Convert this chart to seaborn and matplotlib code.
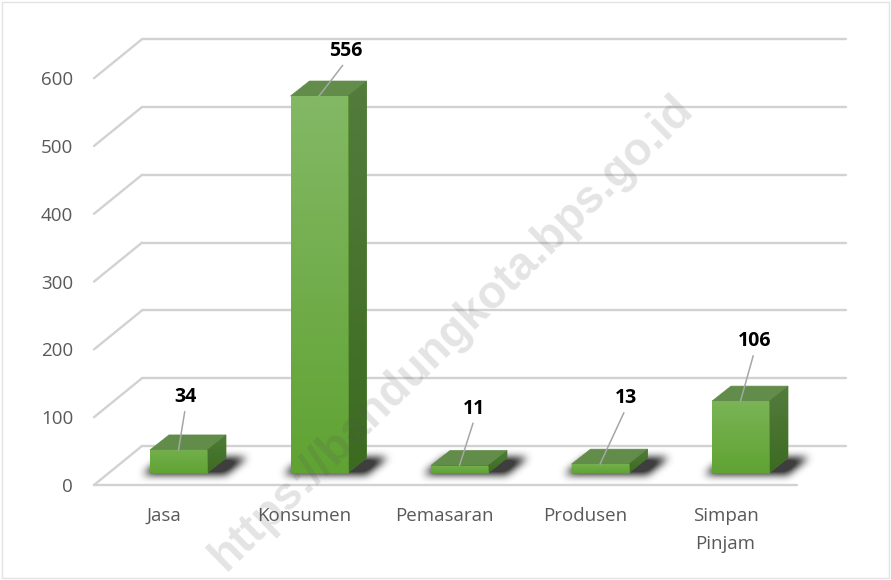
import numpy as np
import pandas as pd
import seaborn as sns
import matplotlib.pyplot as plt
from matplotlib.patches import Polygon, Rectangle
from matplotlib.colors import LinearSegmentedColormap

#Chart values
categories = ['Jasa', 'Konsumen', 'Pemasaran', 'Produsen', 'Simpan Pinjam']
values = [34, 556, 11, 13, 106]
tick_labels = ['Jasa', 'Konsumen', 'Pemasaran', 'Produsen', 'Simpan\nPinjam']
y_levels = [0, 100, 200, 300, 400, 500, 600]
watermark = 'https://bandungkota.bps.go.id'

#Label offsets from the top of each bar, in pixels
label_dx = [7, 27, 15, 26, 14]
label_dy = [53, 45, 57, 66, 60]

W, H = 891, 580
sns.set_theme(style='white')
plt.rcParams['font.family'] = ['Open Sans', 'DejaVu Sans']

fig = plt.figure(figsize=(W / 100, H / 100), dpi=100, facecolor='white')

#Plot frame in pixels, and pixels per unit on both scales
left, right, floor, top = 94, 846, 485, 30
px_cat = 140.5
px_val = 0.678
bar_x0 = 178.5
depth_x, depth_y = 19 / px_cat, 15 / px_val
rect = [left / W, (H - floor) / H, (right - left) / W, (floor - top) / H]

#Front plane: axis labels and the wall/floor grid
ax_front = fig.add_axes(rect)
ax_front.set_xlim((left - 163.5) / px_cat, (right - 163.5) / px_cat)
ax_front.set_ylim(0, (floor - top) / px_val)
sns.despine(ax=ax_front, left=True, bottom=True)
ax_front.patch.set_alpha(0)
ax_front.set_xticks(range(len(tick_labels)))
ax_front.set_xticklabels(tick_labels, linespacing=1.72)
ax_front.set_yticks(y_levels)
ax_front.tick_params(axis='x', length=0, pad=16, labelsize=13.5, labelcolor='#595959')
ax_front.tick_params(axis='y', length=0, pad=15, labelsize=13.5, labelcolor='#595959')

trans = ax_front.get_yaxis_transform()
back_x = 48 / (right - left)
back_dy = 39 / px_val
grid_kw = dict(color='#d2d2d2', lw=1.7, transform=trans, clip_on=False, solid_capstyle='round')
for v in y_levels:
    ax_front.plot([0, back_x], [v, v + back_dy], **grid_kw)
    ax_front.plot([back_x, 1], [v + back_dy, v + back_dy], **grid_kw)
ax_front.plot([0, (797 - left) / (right - left)], [0, 0], **grid_kw)

#Bars plane sits a little behind the front edge of the floor
ax_bars = fig.add_axes(rect, zorder=2)
df = pd.DataFrame({'category': categories, 'value': values})
sns.barplot(data=df, x='category', y='value', ax=ax_bars, color='#6aab3d',
            width=57 / px_cat, edgecolor='#5b9a33', linewidth=0.6, zorder=5)
ax_bars.patch.set_alpha(0)
ax_bars.axis('off')


def gradient(ax, poly, c1, c2, zorder, box):
    #vertical gradient, c1 at the top, clipped to the face
    cmap = LinearSegmentedColormap.from_list('face', [c1, c2])
    im = ax.imshow(np.linspace(0, 1, 128)[:, None], cmap=cmap, extent=box,
                   aspect='auto', zorder=zorder, interpolation='bilinear')
    im.set_clip_path(poly)


def box_blur(a, n):
    k = np.ones(n) / n
    for _ in range(3):
        a = np.apply_along_axis(lambda r: np.convolve(r, k, mode='same'), 0, a)
        a = np.apply_along_axis(lambda r: np.convolve(r, k, mode='same'), 1, a)
    return a


for bar in list(ax_bars.patches):
    x0, x1 = bar.get_x(), bar.get_x() + bar.get_width()
    v = bar.get_height()

    #floor shadow, built in pixels then placed on the data scales
    pw, ph = 170, 60
    yy, xx = np.mgrid[0:ph, 0:pw]
    up = 44 - yy
    bw = (x1 - x0) * px_cat
    inside = (up >= 1) & (up <= 17) & (xx - up * 1.25 >= 26) & (xx - up * 1.25 <= 36 + bw + 16)
    alpha = np.clip(box_blur(inside.astype(float), 8) * 1.25, 0, 0.95)
    rgba = np.zeros((ph, pw, 4))
    rgba[..., :3] = 0.2
    rgba[..., 3] = alpha
    sx0 = x0 - 36 / px_cat
    ax_bars.imshow(rgba, extent=(sx0, sx0 + pw / px_cat, (44 - ph) / px_val, 44 / px_val),
                   aspect='auto', zorder=1, interpolation='bilinear')

    #side and top faces
    side = Polygon([(x1, 0), (x1 + depth_x, depth_y), (x1 + depth_x, v + depth_y), (x1, v)],
                   closed=True, fc='#4a7a2e', ec='#4a7a2e', lw=0.5, zorder=3,
                   transform=ax_bars.transData)
    roof = Polygon([(x0, v), (x1, v), (x1 + depth_x, v + depth_y), (x0 + depth_x, v + depth_y)],
                   closed=True, fc='#618c49', ec='#618c49', lw=0.5, zorder=3,
                   transform=ax_bars.transData)
    ax_bars.add_patch(side)
    ax_bars.add_patch(roof)
    gradient(ax_bars, side, '#537c3d' if v > 50 else '#4f7d38', '#3c6b20', 4,
             (x1, x1 + depth_x, 0, v + depth_y))
    c_top = '#83b865' if v > 200 else ('#7ab456' if v > 50 else '#74b04e')
    gradient(ax_bars, bar, c_top, '#60a333', 6, (x0, x1, 0, v))

#Leader lines and bold data labels
for i, v in enumerate(values):
    ax_bars.annotate(str(v), xy=(i, v), xytext=(label_dx[i], label_dy[i]), textcoords='offset pixels',
                     ha='center', va='center', fontsize=14, fontweight='bold', color='black', zorder=8,
                     arrowprops=dict(arrowstyle='-', color='#a6a6a6', lw=1.1, relpos=(0.5, 0),
                                     shrinkA=1, shrinkB=0))

ax_bars.set_xlim((left - bar_x0) / px_cat, (right - bar_x0) / px_cat)
ax_bars.set_ylim(-(floor - 473) / px_val, (473 - top) / px_val)

#Picture border and watermark
fig.add_artist(Rectangle((0.002, 0.003), 0.996, 0.994, transform=fig.transFigure, fill=False,
                         ec='#e2e2e2', lw=1))
fig.text(452 / W, 1 - 333 / H, watermark, rotation=44.5, rotation_mode='anchor', ha='center', va='center',
         fontsize=33, fontweight='bold', family=['Liberation Sans'], color='#555555', alpha=0.16, zorder=10)

fig.savefig('out.png', dpi=100)
